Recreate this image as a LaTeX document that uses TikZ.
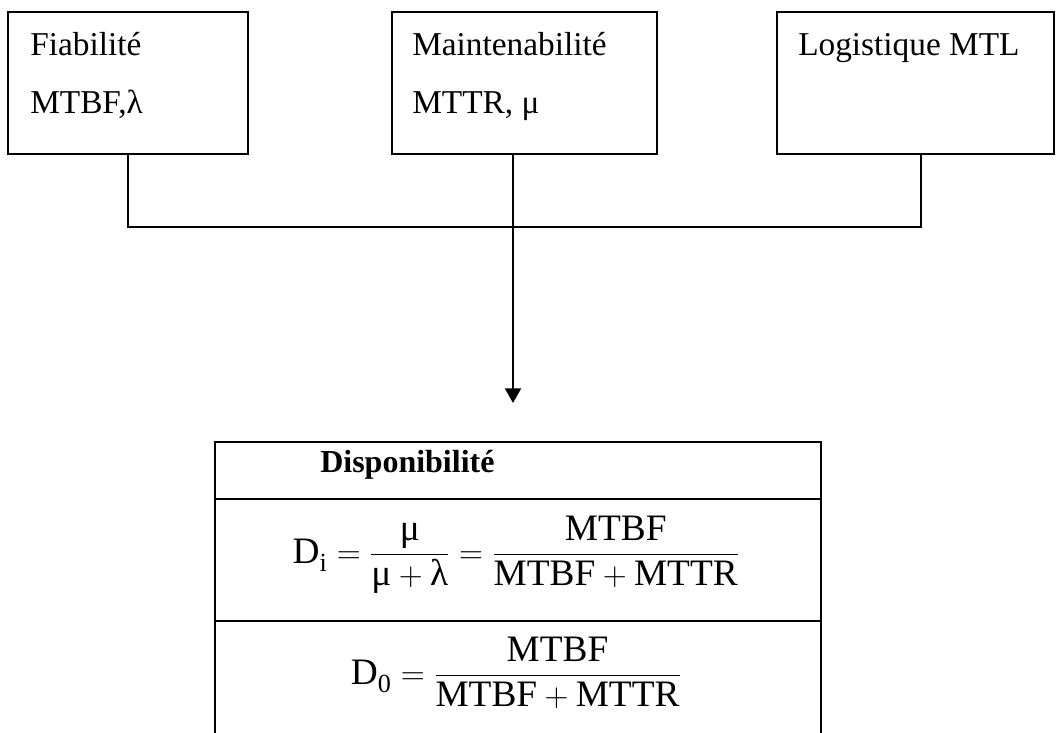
\documentclass[tikz,border=0pt]{standalone}
\usepackage{amsmath}
\usepackage{fontspec}
\setmainfont{Liberation Serif}
\usetikzlibrary{arrows.meta}
\newcommand{\lowsub}[1]{\lower 2.5pt\hbox{$\scriptstyle\text{#1}$}}
\begin{document}
\begin{tikzpicture}[x=0.75pt,y=-0.75pt,
  box/.style={draw, line width=1.5pt, inner sep=0pt, minimum height=106.5pt},
  cell/.style={draw, line width=1.5pt, inner sep=0pt, minimum width=454.5pt},
  lbl/.style={anchor=base west, inner sep=0pt, font=\fontsize{25}{30}\selectfont},
  hd/.style={anchor=base west, inner sep=0pt, font=\fontsize{24}{29}\selectfont\bfseries},
  formula/.style={anchor=center, inner sep=0pt, font=\fontsize{28}{33}\selectfont},
  conn/.style={line width=1.5pt},
  arr/.style={line width=1.5pt, -{Triangle[length=11pt,width=12pt]}}]
\useasboundingbox (0,0) rectangle (1056,732);
% top boxes
\node[box, minimum width=180pt] (b1) at (128,83) {};
\node[box, minimum width=198.75pt] (b2) at (524.5,83) {};
\node[box, minimum width=207.75pt] (b3) at (915.5,83) {};
\node[lbl] (t1a) at (30,55) {Fiabilité};
\node[lbl] (t1b) at (30,113) {MTBF,λ};
\node[lbl] (t2a) at (412,55) {Maintenabilité};
\node[lbl] (t2b) at (412,113) {MTTR, μ};
\node[lbl] (t3a) at (798,55) {Logistique MTL};
% table
\node[cell, minimum height=42.75pt] (c1) at (518,470.5) {};
\node[cell, minimum height=91.5pt] (c2) at (518,560) {};
\node[cell, minimum height=104.25pt] (c3) at (518,690.5) {};
\node[hd] (h) at (320,472) {Disponibilité};
\node[formula] (f1) at (516,555) {$\text{D}_{\lowsub{i}} = \dfrac{\text{μ}}{\text{μ}+\text{λ}} = \dfrac{\text{MTBF}}{\text{MTBF}+\text{MTTR}}$};
\node[formula] (f2) at (516,673) {$\text{D}_{\lowsub{0}} = \dfrac{\text{MTBF}}{\text{MTBF}+\text{MTTR}}$};
% connectors
\coordinate (tip) at (513,403);
\draw[conn] (b1.south) -- ++(0,72) -| ([xshift=3.9pt]b3.south);
\draw[arr] (b2.south -| tip) -- (tip);
\end{tikzpicture}
\end{document}
